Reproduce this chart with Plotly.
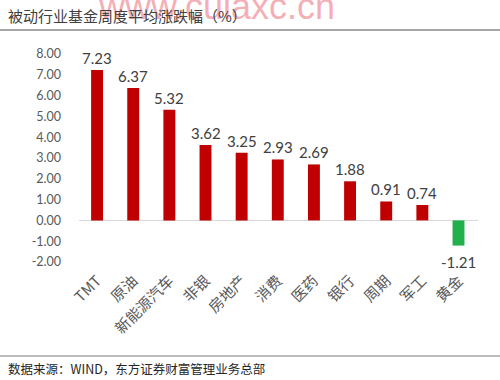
import plotly.graph_objects as go

categories = ["TMT", "原油", "新能源汽车", "非银", "房地产", "消费", "医药", "银行", "周期", "军工", "黄金"]
values = [7.23, 6.37, 5.32, 3.62, 3.25, 2.93, 2.69, 1.88, 0.91, 0.74, -1.21]
tick_vals = [-2, -1, 0, 1, 2, 3, 4, 5, 6, 7, 8]
tick_text = ["%.2f" % v for v in tick_vals]

colors = ["#c00000" if v >= 0 else "#21b04b" for v in values]
labels = ["%.2f" % v for v in values]

font_cjk = "Noto Sans CJK SC, Noto Sans, sans-serif"
font_num = "Lato, Open Sans, sans-serif"

fig = go.Figure(go.Bar(
    x=categories, y=values, marker_color=colors, marker_line_width=0,
    width=0.33, cliponaxis=False,
))

value_annotations = [
    dict(x=c, y=v, xref="x", yref="y", text=t, showarrow=False,
         xanchor="center", yanchor="bottom" if v >= 0 else "top",
         yshift=1 if v >= 0 else -5,
         font=dict(size=15, color="#404040", family=font_num))
    for c, v, t in zip(categories, values, labels)
]

fig.update_layout(
    width=500, height=380,
    margin=dict(l=79, r=22, t=54, b=118),
    plot_bgcolor="white", paper_bgcolor="white",
    showlegend=False,
    font=dict(family=font_cjk, color="#595959"),
    xaxis=dict(tickangle=-45, tickfont=dict(size=15, color="#595959", family=font_cjk),
               showgrid=False, showline=False, ticks="", ticklabelstandoff=6),
    yaxis=dict(range=[-2, 8], tickvals=tick_vals, ticktext=tick_text,
               tickfont=dict(size=12.5, color="#595959", family=font_num),
               showgrid=False, zeroline=True, zerolinecolor="#d9d9d9", zerolinewidth=1,
               showline=False, ticks="", ticklabelstandoff=17),
    shapes=[
        dict(type="line", xref="paper", yref="paper", x0=-79/399, x1=1+22/399,
             y0=(380-118-30)/208, y1=(380-118-30)/208, line=dict(color="#a6a6a6", width=2)),
        dict(type="line", xref="paper", yref="paper", x0=-79/399, x1=1+22/399,
             y0=(380-118-356)/208, y1=(380-118-356)/208, line=dict(color="#a6a6a6", width=1.5)),
    ],
    annotations=[
        dict(text="www.cuiaxc.cn", xref="paper", yref="paper", x=(337-79)/399, y=(262-7)/208,
             xanchor="right", yanchor="middle", showarrow=False,
             font=dict(size=36, color="rgba(240,140,150,0.7)", family="Liberation Sans, Arial")),
        dict(text="被动行业基金周度平均涨跌幅（%）", xref="paper", yref="paper",
             x=(6-79)/399, y=(262-15)/208, xanchor="left", yanchor="middle", showarrow=False,
             font=dict(size=15, color="#404040", family=font_cjk)),
        dict(text="数据来源：WIND，东方证券财富管理业务总部", xref="paper", yref="paper",
             x=(6-79)/399, y=(262-368)/208, xanchor="left", yanchor="middle", showarrow=False,
             font=dict(size=12.5, color="#262626", family=font_cjk)),
    ] + value_annotations,
)

fig.write_html("out.html", config={"displayModeBar": False},
               post_script="document.body.style.margin='0';document.body.style.overflow='hidden';")
